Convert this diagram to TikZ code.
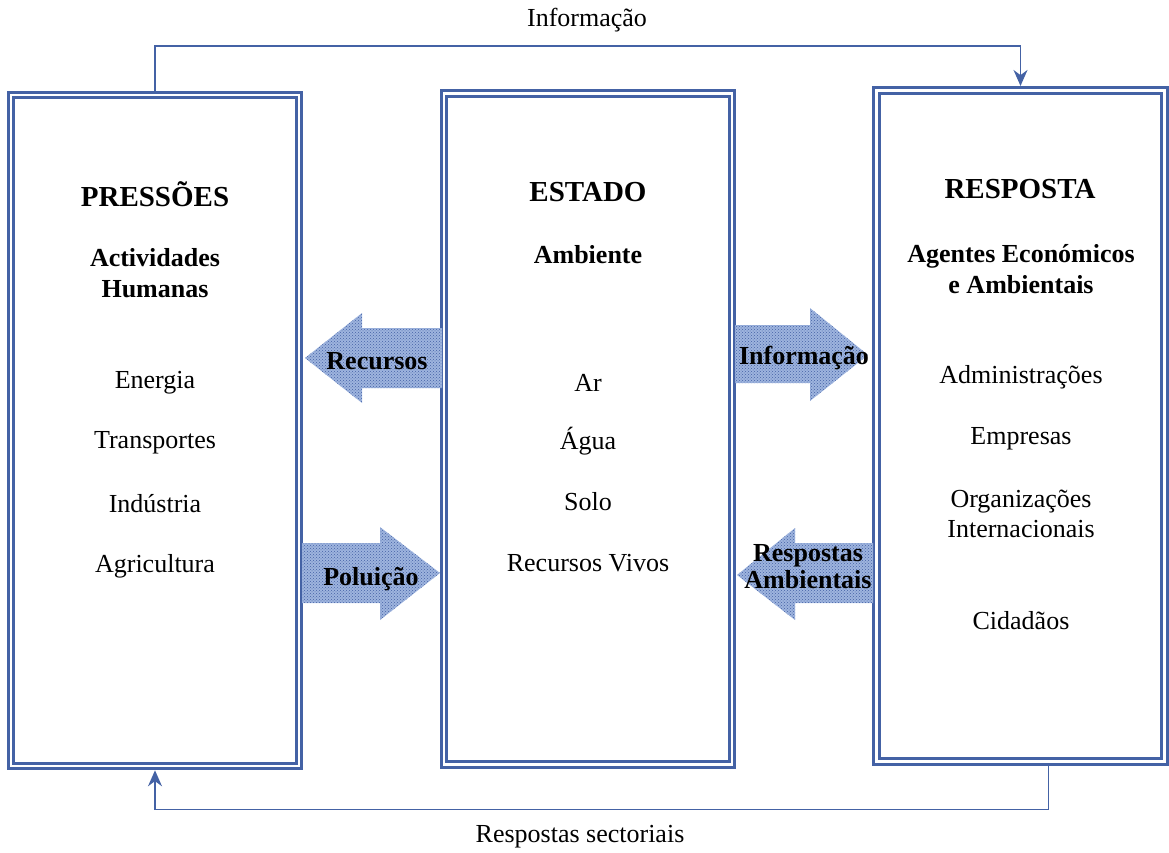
\documentclass[tikz,border=0pt]{standalone}
\usepackage{fontspec}
\setmainfont{Liberation Serif}
\usetikzlibrary{arrows.meta,patterns}

\definecolor{boxblue}{RGB}{68,98,165}
\definecolor{arrowblue}{RGB}{158,180,222}

\tikzset{
  pillar/.style={draw=boxblue, double=white, double distance=2.6pt, line width=3pt,
    minimum width=288pt, minimum height=671pt, outer sep=4.3pt, inner sep=0pt},
  link/.style={draw=boxblue, line width=1.8pt, -{Stealth[length=16pt,width=14pt]}},
  heading/.style={font=\fontsize{29}{34}\selectfont\bfseries},
  subheading/.style={font=\fontsize{26}{31}\selectfont\bfseries, align=center},
  item/.style={font=\fontsize{26}{30}\selectfont, align=center},
  flow/.style={preaction={fill=arrowblue}, pattern=crosshatch dots, pattern color=boxblue},
  flowlabel/.style={font=\fontsize{26}{27}\selectfont\bfseries, align=center, inner sep=0pt}
}

\begin{document}
\begin{tikzpicture}[x=1pt,y=-1pt]
\useasboundingbox (0,0) rectangle (1169,853);

% the three columns
\node[pillar] (pressoes) at (155,430.5) {};
\node[pillar] (estado) at (588,428.75) {};
\node[pillar] (resposta) at (1020.5,425.75) {};

% feedback lines
\draw[link] (pressoes.north) -- ++(0,-45) -| (resposta.north);
\node[item] (topinfo) at (587,20) {Informação};
\draw[link] ([xshift=28pt]resposta.south) -- ++(0,44) -| (pressoes.south);
\node[item] (sectoriais) at (580,837) {Respostas sectoriais};

% wide arrows between the columns
\path[flow] (442,328) -- (362,328) -- (362,313) -- (305,358) -- (362,403) -- (362,388) -- (442,388) -- cycle;
\node[flowlabel] (recursos) at (377,361) {Recursos};
\path[flow] (735,325) -- (810,325) -- (810,308) -- (868,355) -- (810,401) -- (810,383) -- (735,383) -- cycle;
\node[flowlabel] (informacao) at (804,358) {Informação};
\path[flow] (302,543) -- (380,543) -- (380,527) -- (440,573) -- (380,620) -- (380,603) -- (302,603) -- cycle;
\node[flowlabel] (poluicao) at (371,579) {Poluição};
\path[flow] (873,543) -- (795,543) -- (795,528) -- (737,575) -- (795,620) -- (795,603) -- (873,603) -- cycle;
\node[flowlabel] (respamb) at (808,567) {Respostas\\Ambientais};

% PRESSOES
\node[heading] (tpress) at (155,194) {PRESSÕES};
\node[subheading] (tactiv) at (155,273) {Actividades\\Humanas};
\node[item] (energia) at (155,383) {Energia};
\node[item] (transp) at (155,443) {Transportes};
\node[item] (industria) at (155,504) {Indústria};
\node[item] (agric) at (155,566) {Agricultura};

% ESTADO
\node[heading] (testado) at (588,192) {ESTADO};
\node[subheading] (tamb) at (588,255) {Ambiente};
\node[item] (ar) at (588,383) {Ar};
\node[item] (agua) at (588,441) {Água};
\node[item] (solo) at (588,502) {Solo};
\node[item] (vivos) at (588,563) {Recursos Vivos};

% RESPOSTA
\node[heading] (tresp) at (1020,189) {RESPOSTA};
\node[subheading] (tagentes) at (1021,269) {Agentes Económicos\\e Ambientais};
\node[item] (admin) at (1021,377) {Administrações};
\node[item] (empresas) at (1021,439) {Empresas};
\node[item] (org) at (1021,514) {Organizações\\Internacionais};
\node[item] (cidadaos) at (1021,621) {Cidadãos};
\end{tikzpicture}
\end{document}
